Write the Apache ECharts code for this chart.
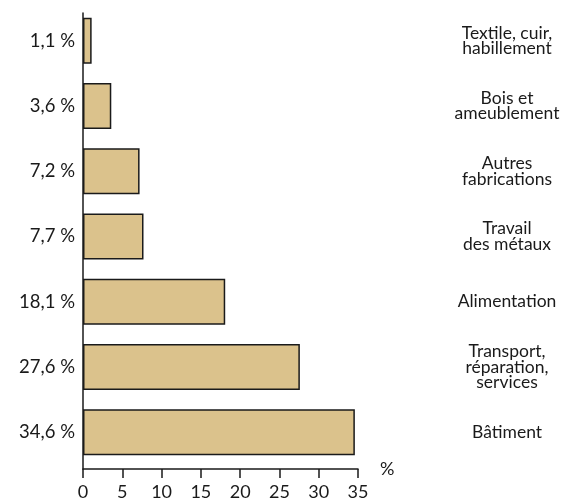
<!DOCTYPE html>
<html>
<head>
<meta charset="utf-8">
<script src="https://cdn.jsdelivr.net/npm/echarts@6/dist/echarts.min.js"></script>
<style>
  html, body { margin: 0; padding: 0; background: #fff; }
  #chart { width: 570px; height: 501px; }
</style>
</head>
<body>
<div id="chart"></div>
<script>
// secteurs, du haut vers le bas
var secteurs = [
    'Textile, cuir,\nhabillement',
    'Bois et\nameublement',
    'Autres\nfabrications',
    'Travail\ndes métaux',
    'Alimentation',
    'Transport,\nréparation,\nservices',
    'Bâtiment'
];
var parts = [1.1, 3.6, 7.2, 7.7, 18.1, 27.6, 34.6];
var ticks = [0, 5, 10, 15, 20, 25, 30, 35];

var font = 'Lato, "DejaVu Sans", sans-serif';
var dark = '#1a1a1a';

var pctLabels = parts.map(function (v) {
    return v.toFixed(1).replace('.', ',') + ' %';
});

var myChart = echarts.init(document.getElementById('chart'));

var option = {
    backgroundColor: '#fff',
    animation: false,
    grid: [
        // barres
        { left: 83, right: 212, top: 8, bottom: 36 },
        // axes visibles
        { left: 83, right: 212, top: 13, bottom: 31 }
    ],
    xAxis: [
        { gridIndex: 0, type: 'value', min: 0, max: 35, show: false },
        {
            gridIndex: 1, type: 'value',
            min: ticks[0], max: ticks[ticks.length - 1], interval: 5,
            name: '%',
            nameLocation: 'end',
            nameGap: 22,
            nameTextStyle: { fontFamily: font, fontSize: 18, color: dark },
            axisLine: { show: true, lineStyle: { color: dark, width: 1.5 } },
            axisTick: { show: true, inside: false, length: 9, lineStyle: { color: dark, width: 1.5 } },
            axisLabel: { margin: 14, fontFamily: font, fontSize: 18, color: dark },
            splitLine: { show: false }
        }
    ],
    yAxis: [
        {
            gridIndex: 0, type: 'category', inverse: true,
            data: pctLabels,
            axisLine: { show: false },
            axisTick: { show: false },
            axisLabel: { margin: 8, fontFamily: font, fontSize: 18.5, color: dark }
        },
        {
            gridIndex: 0, type: 'category', inverse: true, position: 'right',
            data: secteurs,
            axisLine: { show: false },
            axisTick: { show: false },
            axisLabel: {
                margin: 149, align: 'center',
                fontFamily: font, fontSize: 17.5, lineHeight: 15.5, color: dark
            }
        },
        {
            gridIndex: 1, type: 'value', min: 0, max: 1,
            axisLine: { show: true, onZero: false, lineStyle: { color: dark, width: 1.5 } },
            axisTick: { show: false },
            axisLabel: { show: false },
            splitLine: { show: false }
        }
    ],
    series: [{
        type: 'bar',
        xAxisIndex: 0,
        yAxisIndex: 0,
        data: parts,
        barWidth: 46,
        itemStyle: { color: '#dbc28c', borderColor: dark, borderWidth: 1.5 }
    }]
};

myChart.setOption(option);
</script>
</body>
</html>
